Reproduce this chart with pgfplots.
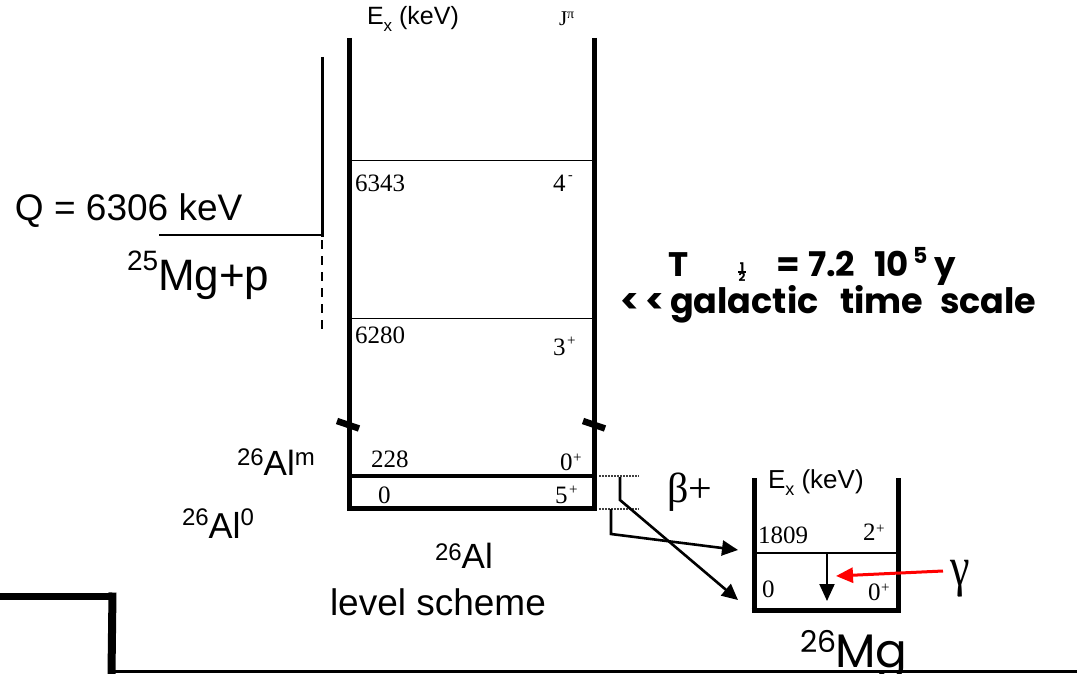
\documentclass[border=0pt]{standalone}
\usepackage{fontspec}
\setmainfont{Liberation Sans}
\newfontfamily\tms{Liberation Serif}
\newfontfamily\cmc{Poppins}
\usepackage{pgfplots}
\pgfplotsset{compat=1.18}
\usetikzlibrary{arrows.meta}
\newcommand\fs[1]{\fontsize{#1}{#1}\selectfont}
\tikzset{lbl/.style={inner sep=0pt, outer sep=0pt, anchor=base west}}

\begin{document}
\begin{tikzpicture}
\begin{axis}[name=ax, at={(0,0)}, anchor=south west,
  x=1pt, y=1pt, xmin=0, xmax=1077, ymin=0, ymax=674, y dir=reverse,
  hide axis, clip=false]

% ---- 26Al level scheme: frame ----
\addplot[black, line width=5pt] coordinates {(349.5,38) (349.5,511)};
\addplot[black, line width=5pt] coordinates {(594.5,38) (594.5,511)};
\addplot[black, line width=5pt] coordinates {(347,508.5) (597,508.5)};
% levels
\addplot[black, line width=1.6pt] coordinates {(349,160.5) (594,160.5)};  % 6343
\addplot[black, line width=1.6pt] coordinates {(349,318.5) (594,318.5)};  % 6280
\addplot[black, line width=4pt]   coordinates {(349,476) (594,476)};      % 228
% axis breaks
\addplot[black, line width=6.5pt] coordinates {(337,421) (359,428.5)};
\addplot[black, line width=6.5pt] coordinates {(583,421) (605,428.5)};

% ---- proton threshold ----
\addplot[black, line width=3pt] coordinates {(322,57) (322,236.5)};
\addplot[black, line width=2.5pt] coordinates {(159,235) (323.5,235)};
\addplot[black, line width=2.5pt, dash pattern=on 9pt off 7pt] coordinates {(322,240) (322,334)};

% ---- beta decay branches ----
\addplot[black!75, line width=1.4pt, dash pattern=on 1.5pt off 1.5pt] coordinates {(599,476) (639,476)};
\addplot[black!75, line width=1.4pt, dash pattern=on 1.5pt off 1.5pt] coordinates {(599,509) (639,509)};
\addplot[black, line width=2.6pt, -{Triangle[length=16pt,width=15pt]}] coordinates {(620,477) (620,500) (738,600)};
\addplot[black, line width=2.6pt, -{Triangle[length=16pt,width=15pt]}] coordinates {(611,509) (611,534) (738,550)};

% ---- 26Mg levels ----
\addplot[black, line width=5pt] coordinates {(754,478) (754,613)};
\addplot[black, line width=5pt] coordinates {(898,478) (898,613)};
\addplot[black, line width=5pt] coordinates {(751.5,610.5) (900.5,610.5)};
\addplot[black, line width=1.6pt] coordinates {(754,553) (898,553)};     % 1809
\addplot[black, line width=2pt, -{Triangle[length=17pt,width=15pt]}] coordinates {(827,553) (827,601)};
\addplot[red, line width=3pt, -{Triangle[length=17pt,width=15pt]}] coordinates {(943,571) (836,576)};

% ---- bottom frame ----
\addplot[black, line width=7.5pt] coordinates {(0,596.5) (116,596.5)};
\addplot[black, line width=8pt] coordinates {(112.5,592.5) (111.5,674)};
\addplot[black, line width=3pt] coordinates {(110,671.5) (1077,671.5)};

% ---- text: 26Al ----
\node[lbl] at (367,25) {\fs{25}E\raisebox{-7pt}{\fs{17}x} (keV)};
\node[lbl] at (559,26) {\tms\fs{21}J\raisebox{7pt}{\fs{14}π}};
\node[lbl] at (355,192) {\tms\fs{25}6343};
\node[lbl] at (553,192) {\tms\fs{25}4};
\node[lbl] at (568,180) {\tms\fs{14}-};
\node[lbl] at (355,343) {\tms\fs{25}6280};
\node[lbl] at (553,355) {\tms\fs{25}3};
\node[lbl] at (567,345) {\tms\fs{15}+};
\node[lbl] at (371,467) {\tms\fs{25}228};
\node[lbl] at (560,470) {\tms\fs{25}0};
\node[lbl] at (573,462) {\tms\fs{15}+};
\node[lbl] at (378,503) {\tms\fs{25}0};
\node[lbl] at (555,503) {\tms\fs{25}5};
\node[lbl] at (569,494) {\tms\fs{15}+};

\node[lbl] at (15,220) {\fs{37}Q = 6306 keV};
\node[lbl] at (127,290) {\fs{28}\raisebox{20pt}{25}\fs{44}Mg+p};
\node[lbl] at (237,475) {\fs{24}\raisebox{10pt}{26}\fs{35}Al\fs{24}\raisebox{10pt}{m}};
\node[lbl] at (182,538) {\fs{24}\raisebox{13pt}{26}\fs{36}Al\fs{24}\raisebox{13pt}{0}};
\node[lbl] at (435,568) {\fs{24}\raisebox{8pt}{26}\fs{35}Al};
\node[lbl] at (330,615) {\fs{37}level scheme};

% ---- text: half-life ----
\node[lbl] at (668,276) {\cmc\bfseries\fs{34}T};
\node[inner sep=0pt, anchor=center] at (742,272) {\cmc\bfseries\fs{12}\shortstack{1\\[-3pt]\rule{8pt}{1.2pt}\\[-3pt]2}};
\node[lbl] at (776,276) {\cmc\bfseries\fs{34}=};
\node[lbl] at (808,276) {\cmc\bfseries\fs{34}7.2};
\node[lbl] at (874,276) {\cmc\bfseries\fs{34}10};
\node[lbl] at (913,263) {\cmc\bfseries\fs{22}5};
\node[lbl] at (934,276) {\cmc\bfseries\fs{34}y};
\node[lbl] at (620,313) {\cmc\bfseries\fs{35}\textless\,\textless};
\node[lbl] at (670,313) {\cmc\bfseries\fs{35}galactic};
\node[lbl] at (840,313) {\cmc\bfseries\fs{35}time};
\node[lbl] at (940,313) {\cmc\bfseries\fs{35}scale};

% ---- text: decay ----
\node[lbl] at (667,502) {\tms\fs{42}β+};
\node[lbl] at (768,488) {\fs{26}E\raisebox{-7pt}{\fs{18}x} (keV)};
\node[lbl] at (758,543) {\tms\fs{25}1809};
\node[lbl] at (863,540) {\tms\fs{25}2};
\node[lbl] at (876,533) {\tms\fs{15}+};
\node[lbl] at (762,597) {\tms\fs{25}0};
\node[lbl] at (868,600) {\tms\fs{25}0};
\node[lbl] at (881,592) {\tms\fs{15}+};
\node[lbl] at (950,585) {\tms\fs{44}\scalebox{1}[1.25]{γ}};
\node[lbl] at (800,652) {\cmc\fs{30}26};
\node[lbl] at (835,667) {\cmc\fs{47}Mg};
\end{axis}
\pgfresetboundingbox
\path[use as bounding box] (ax.south west) rectangle (ax.north east);
\end{tikzpicture}
\end{document}
